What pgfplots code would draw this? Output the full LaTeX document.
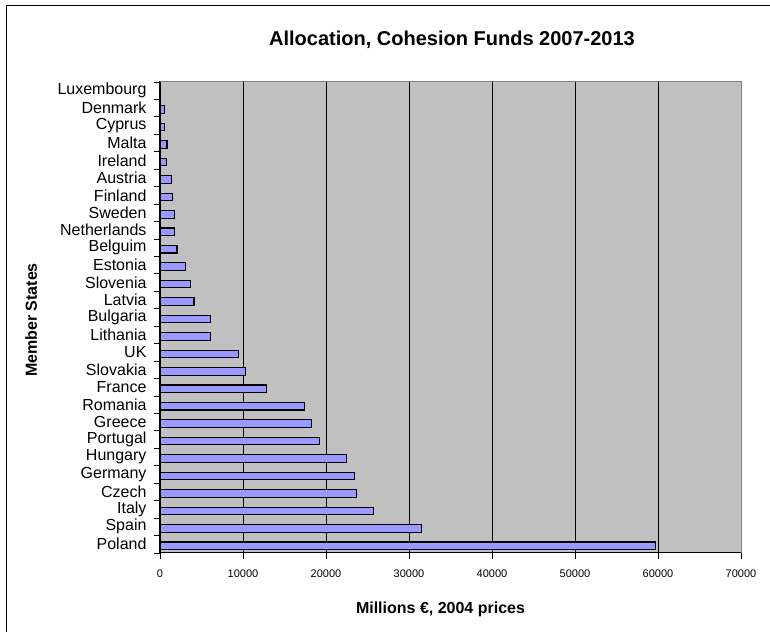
\documentclass[border=0pt]{standalone}
\usepackage{fontspec}
\setmainfont{Liberation Sans}
\usepackage{pgfplots}
\pgfplotsset{compat=1.18}
\definecolor{plotbg}{HTML}{C0C0C0}
\definecolor{barfill}{HTML}{9999FF}
\begin{document}
\begin{tikzpicture}
\path[use as bounding box] (-160pt,-78pt) rectangle (610pt,553pt);
\draw[line width=1pt] (-153pt,-90pt) -- (-153pt,547pt) -- (620pt,547pt);
\begin{axis}[
 at={(0pt,0pt)}, anchor=south west,
 scale only axis, width=581pt, height=471pt,
 xbar, bar width=7.5pt,
 xmin=0, xmax=70000, ymin=-0.5, ymax=26.5,
 axis background/.style={fill=plotbg},
 /pgf/number format/assume math mode=true,
 xtick={0,10000,20000,30000,40000,50000,60000,70000},
 xtick pos=bottom, ytick pos=left,
 scaled x ticks=false,
 xticklabel style={font=\fontsize{11}{13}\selectfont, yshift=-7pt, /pgf/number format/fixed, /pgf/number format/1000 sep={}},
 ytick={0,...,26},
 yticklabels={Poland,Spain,Italy,Czech,Germany,Hungary,Portugal,Greece,Romania,France,Slovakia,UK,Lithania,Bulgaria,Latvia,Slovenia,Estonia,Belguim,Netherlands,Sweden,Finland,Austria,Ireland,Malta,Cyprus,Denmark,Luxembourg},
 yticklabel style={font=\fontsize{16}{18}\selectfont, xshift=-4pt},
 minor ytick={-0.5,0.5,...,26.5},
 tick align=outside,
 major tick length=6pt, minor tick length=6pt,
 every major y tick/.append style={draw=none},
 tick style={black, line width=0.8pt},
 xmajorgrids,
 major grid style={black, line width=0.7pt},
 axis line style={black, line width=1pt},
 clip=false,
]
\addplot[fill=barfill, draw=black, line width=1.1pt, bar shift=-1.5pt] coordinates {
(59700,0) (31500,1) (25700,2) (23650,3) (23480,4) (22450,5) (19250,6) (18200,7) (17400,8) (12850,9) (10300,10) (9450,11) (6100,12) (6050,13) (4100,14) (3700,15) (3050,16) (2050,17) (1700,18) (1720,19) (1530,20) (1400,21) (820,22) (840,23) (520,24) (580,25) (0,26)
};
\end{axis}
\draw[gray, line width=1pt] (0pt,471pt) -- (581pt,471pt) -- (581pt,0pt);
\node[font=\bfseries\fontsize{20}{24}\selectfont, anchor=base] at (292pt,507.3pt) {Allocation, Cohesion Funds 2007-2013};
\node[font=\bfseries\fontsize{16}{19}\selectfont, anchor=base] at (280.5pt,-60pt) {Millions €, 2004 prices};
\node[font=\bfseries\fontsize{16}{19}\selectfont, anchor=base, rotate=90] at (-123pt,233pt) {Member States};
\end{tikzpicture}
\end{document}
